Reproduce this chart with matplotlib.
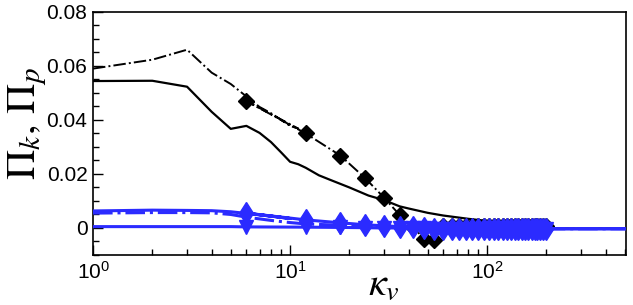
import numpy as np
import matplotlib
matplotlib.use("Agg")
import matplotlib.pyplot as plt
from matplotlib.ticker import MultipleLocator, FixedLocator, FuncFormatter, LogLocator

plt.rcParams['font.family'] = ['Liberation Sans', 'DejaVu Sans']
plt.rcParams['mathtext.fontset'] = 'stix'

# marker positions: every 6 in kappa from 6 to 198
kappa_marks = [6, 12, 18, 24, 30, 36, 42, 48, 54, 60, 66, 72, 78, 84, 90, 96, 102,
               108, 114, 120, 126, 132, 138, 144, 150, 156, 162, 168, 174, 180, 186, 192, 198]

# black solid (no markers)
k_black_solid = [1, 2, 3, 4, 5, 6, 7, 8, 9, 10, 11, 12, 14, 16, 20, 25, 30, 36, 40, 50,
                 60, 80, 100, 120, 150, 200, 205, 250, 300, 400, 500]
black_solid = [0.0544, 0.0545, 0.0523, 0.0430, 0.0367, 0.0378, 0.0352, 0.0318, 0.0280,
               0.0245, 0.0236, 0.0223, 0.0195, 0.0178, 0.0150, 0.0120, 0.0103, 0.0080,
               0.0072, 0.0056, 0.0046, 0.0034, 0.0026, 0.0023, 0.0022, 0.0020, -0.0002,
               -0.0002, -0.0002, -0.0002, -0.0002]

# black dash-dot with diamonds
k_black_dd = [1, 2, 3, 4, 5, 7, 8, 9, 10, 11] + kappa_marks + [205, 500]
black_dd = ([0.0590, 0.0623, 0.0660, 0.0575, 0.0533, 0.0448, 0.0425, 0.0400, 0.0378, 0.0368]
            + [0.0470, 0.0350, 0.0268, 0.0185, 0.0112, 0.0048, 0.0003, -0.0040, -0.0043,
               0.0006, 0.0006, 0.0006, 0.0006, 0.0006, 0.0006, 0.0006, 0.0006, 0.0006,
               0.0006, 0.0006, 0.0006, 0.0006, 0.0006, 0.0006, 0.0006, 0.0006, 0.0006,
               0.0006, 0.0006, 0.0006, 0.0006, 0.0006, 0.0006]
            + [-0.0002, -0.0002])

# blue solid with thin diamonds
k_blue_a = [1, 2, 3, 4, 5, 8, 10] + kappa_marks + [205, 500]
blue_a = ([0.0063, 0.0066, 0.0065, 0.0064, 0.0060, 0.0044, 0.0035]
          + [0.0055, 0.0030, 0.0019, 0.0012, 0.0008, 0.0005, 0.0002, 0.0000, -0.0002,
             -0.0004, -0.0005, -0.0005, -0.0005, -0.0005, -0.0005, -0.0005, -0.0005,
             -0.0005, -0.0005, -0.0005, -0.0005, -0.0005, -0.0005, -0.0005, -0.0005,
             -0.0005, -0.0005, -0.0005, -0.0005, -0.0005, -0.0005, -0.0005, -0.0005]
          + [-0.0003, -0.0003])

# blue dash-dot (no markers)
k_blue_b = [1, 2, 3, 4, 5, 6, 8, 10, 12, 18, 24, 40, 60, 100, 200, 205, 500]
blue_b = [0.0055, 0.0057, 0.0057, 0.0056, 0.0050, 0.0040, 0.0028, 0.0020, 0.0015,
          0.0010, 0.0007, 0.0004, 0.0001, -0.0002, -0.0003, -0.0003, -0.0003]

# blue solid with down triangles
k_blue_c = [1, 2, 3, 4, 5] + kappa_marks + [205, 500]
blue_c = ([0.0005, 0.0005, 0.0005, 0.0005, 0.0005]
          + [0.0004, 0.0003, 0.0002, 0.0001, 0.0000, 0.0000, -0.0001, -0.0001, -0.0002,
             -0.0002, -0.0002, -0.0002, -0.0002, -0.0002, -0.0002, -0.0002, -0.0002,
             -0.0002, -0.0002, -0.0002, -0.0002, -0.0002, -0.0002, -0.0002, -0.0002,
             -0.0002, -0.0002, -0.0002, -0.0002, -0.0002, -0.0002, -0.0002, -0.0002]
          + [-0.0003, -0.0003])

blue = '#2b2bff'

fig = plt.figure(figsize=(6.33, 3.05), dpi=100)
ax = fig.add_axes([0.147, 0.164, 0.842, 0.797])


def marks(k):
    return list(np.isin(k, kappa_marks))


ax.plot(k_black_solid, black_solid, '-', color='black', lw=1.6, zorder=2)
ax.plot(k_black_dd, black_dd, '-.', color='black', lw=1.4, marker='D', ms=8,
        markevery=marks(k_black_dd), zorder=3)
ax.plot(k_blue_b, blue_b, '-.', color=blue, lw=2.2, zorder=4)
ax.plot(k_blue_c, blue_c, '-', color=blue, lw=2.2, marker='v', ms=9.5,
        markevery=marks(k_blue_c), zorder=5)
ax.plot(k_blue_a, blue_a, '-', color=blue, lw=2.2, marker='d', ms=11.5,
        markevery=marks(k_blue_a), zorder=6)

ax.set_xscale('log')
ax.set_xlim(1, 507)
ax.set_ylim(-0.01, 0.08)

ax.yaxis.set_major_locator(FixedLocator([0, 0.02, 0.04, 0.06, 0.08]))
ax.yaxis.set_minor_locator(MultipleLocator(0.005))
ax.yaxis.set_major_formatter(FuncFormatter(lambda v, p: '0' if abs(v) < 1e-9 else '%.2f' % v))
ax.xaxis.set_major_locator(LogLocator(base=10))
ax.xaxis.set_minor_locator(LogLocator(base=10, subs=np.arange(2, 10)))
ax.xaxis.set_major_formatter(FuncFormatter(lambda v, p: r'$\mathregular{10^{%d}}$' % round(np.log10(v))))
ax.xaxis.set_minor_formatter(FuncFormatter(lambda v, p: ''))

ax.tick_params(which='both', direction='in', top=False, right=False, labelsize=15, width=1)
ax.tick_params(which='major', length=7, pad=4)
ax.tick_params(which='minor', length=4)
for s in ax.spines.values():
    s.set_linewidth(1.2)

ax.set_ylabel(r'$\Pi_k,\,\Pi_p$', fontsize=30)
ax.yaxis.set_label_coords(-0.082, 0.54)
ax.set_xlabel(r'$\kappa_v$', fontsize=29)
ax.xaxis.set_label_coords(0.545, -0.04)

fig.savefig('out.png', dpi=100)
